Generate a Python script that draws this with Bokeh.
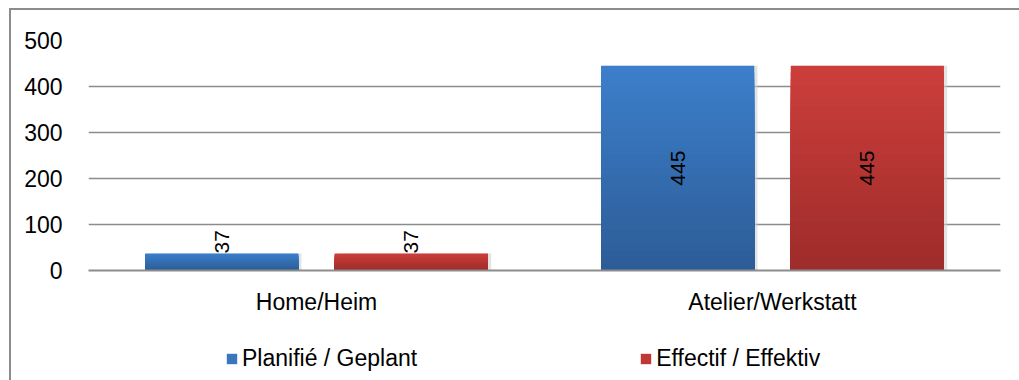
from bokeh.plotting import figure
from bokeh.layouts import column
from bokeh.models import ColumnDataSource, FactorRange, Legend, LegendItem, FixedTicker, Range1d
from bokeh.transform import dodge
from bokeh.core.properties import value
from bokeh.embed import file_html
from bokeh.resources import INLINE
import math

categories = ["Home/Heim", "Atelier/Werkstatt"]
series_names = ["Planifié / Geplant", "Effectif / Effektiv"]
planned = [37, 445]
actual = [37, 445]
y_ticks = [0, 100, 200, 300, 400, 500]

FONT = "Liberation Sans"
blue_top, blue_bot = (60, 126, 202), (44, 92, 150)
red_top, red_bot = (204, 62, 59), (156, 44, 42)
legend_colors = ["#3a75bd", "#bf3836"]

p = figure(x_range=FactorRange(*categories), y_range=(0, 500),
           width=1008, height=330, output_backend="svg", toolbar_location=None,
           min_border_left=77, min_border_right=19, min_border_top=30, min_border_bottom=70)
p.outline_line_color = None

def mix(a, b, t):
    return "#%02x%02x%02x" % tuple(int(round(a[i] + (b[i] - a[i]) * t)) for i in range(3))

N = 30
offsets = [-0.208, 0.208]
for vals, off, ctop, cbot in [(planned, offsets[0], blue_top, blue_bot), (actual, offsets[1], red_top, red_bot)]:
    # soft shadow
    p.vbar(x=dodge("x", off + 0.007, range=p.x_range), top="top", width=0.336,
           source=ColumnDataSource(dict(x=categories, top=vals)),
           fill_color="#d0d0d0", line_color=None, fill_alpha=0.6)
    for k in range(N):
        frac = (N - k) / N
        t = [v * frac for v in vals]
        col = mix(cbot, ctop, frac)
        p.vbar(x=dodge("x", off, range=p.x_range), top="t", width=0.336,
               source=ColumnDataSource(dict(x=categories, t=t)),
               fill_color=col, line_color=None)

# data labels
for vals, off in [(planned, offsets[0]), (actual, offsets[1])]:
    big = [(c, v) for c, v in zip(categories, vals) if v > 100]
    small = [(c, v) for c, v in zip(categories, vals) if v <= 100]
    if big:
        p.text(x=dodge("x", off, range=p.x_range), y="y", text="t",
               source=ColumnDataSource(dict(x=[c for c, _ in big], y=[v / 2 for _, v in big],
                                            t=[str(v) for _, v in big])),
               angle=math.pi / 2, text_align="center", text_baseline="middle",
               text_font=value(FONT), text_font_size="21px", text_color="#000000")
    if small:
        p.text(x=dodge("x", off, range=p.x_range), y="y", text="t",
               source=ColumnDataSource(dict(x=[c for c, _ in small], y=[v for _, v in small],
                                            t=[str(v) for _, v in small])),
               angle=math.pi / 2, text_align="left", text_baseline="middle",
               text_font=value(FONT), text_font_size="21px", text_color="#000000")

p.yaxis.ticker = FixedTicker(ticks=y_ticks)
p.yaxis.axis_line_color = None
p.yaxis.major_tick_line_color = None
p.yaxis.minor_tick_line_color = None
p.yaxis.major_label_standoff = 20
p.yaxis.major_label_text_font = FONT
p.yaxis.major_label_text_font_size = "23px"
p.yaxis.major_label_text_color = "#000000"

p.xaxis.axis_line_color = "#8c8c8c"
p.xaxis.axis_line_width = 2
p.xaxis.major_tick_line_color = None
p.xaxis.minor_tick_line_color = None
p.xaxis.major_label_standoff = 12
p.xaxis.major_label_text_font = FONT
p.xaxis.major_label_text_font_size = "23px"
p.xaxis.major_label_text_color = "#000000"

p.xgrid.grid_line_color = None
p.ygrid.grid_line_color = "#8c8c8c"
p.ygrid.grid_line_width = 1.5

# legend strip (proxy renderers are hidden; only their legend swatches show)
pl = figure(width=1008, height=40, output_backend="svg", toolbar_location=None,
            x_axis_type=None, y_axis_type=None, x_range=Range1d(0, 1), y_range=Range1d(0, 1),
            min_border_left=0, min_border_right=0, min_border_top=0, min_border_bottom=0)
pl.outline_line_color = None
pl.xgrid.grid_line_color = None
pl.ygrid.grid_line_color = None
lr = [pl.vbar(x=[0], top=[0], width=0.1, fill_color=c, line_color=None, visible=False)
      for c in legend_colors]
legend = Legend(items=[LegendItem(label=series_names[i], renderers=[lr[i]]) for i in range(2)],
                orientation="horizontal", location=(137, 8),
                glyph_width=13, glyph_height=13, label_standoff=4, spacing=222,
                label_text_font=FONT, label_text_font_size="23px", label_text_color="#000000",
                background_fill_alpha=0, border_line_color=None, padding=0, margin=0,
                inactive_fill_alpha=0)
pl.add_layout(legend, "center")

layout = column(p, pl, spacing=0)
layout.styles = {"border-top": "2px solid #8c8c8c", "border-left": "2px solid #8c8c8c",
                 "margin-left": "9px", "margin-top": "8px"}

open("out.html", "w").write(file_html(layout, INLINE))
